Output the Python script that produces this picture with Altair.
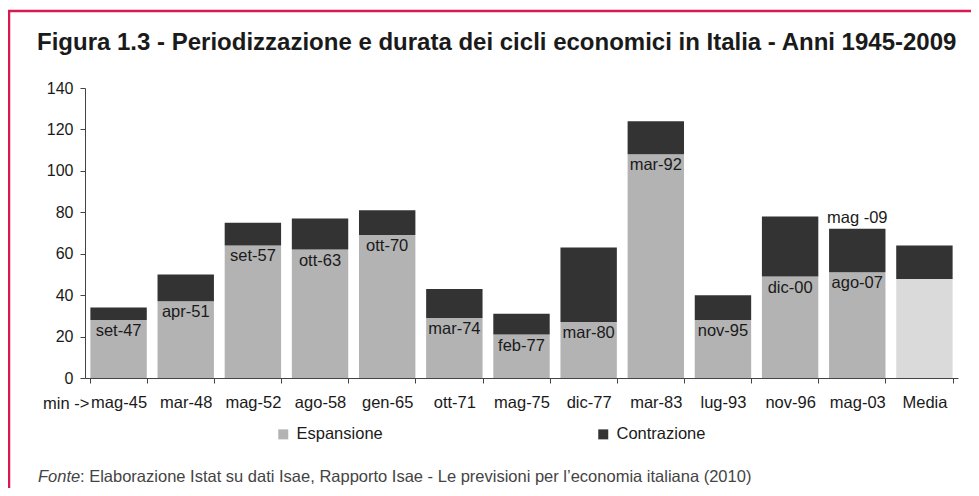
import altair as alt
import pandas as pd

# ---- data ----
categories = ["mag-45", "mar-48", "mag-52", "ago-58", "gen-65", "ott-71", "mag-75",
              "dic-77", "mar-83", "lug-93", "nov-96", "mag-03", "Media"]
espansione = [28, 37, 64, 62, 69, 29, 21, 27, 108, 28, 49, 51, 47.75]
contrazione = [6, 13, 11, 15, 12, 14, 10, 36, 16, 12, 29, 21, 16.25]
picchi = ["set-47", "apr-51", "set-57", "ott-63", "ott-70", "mar-74", "feb-77",
          "mar-80", "mar-92", "nov-95", "dic-00", "ago-07", ""]
ultimo_minimo = {"cat": "mag-03", "label": "mag -09", "total": 72}
y_ticks = [0, 20, 40, 60, 80, 100, 120, 140]

TITLE = "Figura 1.3 - Periodizzazione e durata dei cicli economici in Italia - Anni 1945-2009"
FONTE_I = "Fonte"
FONTE_R = ": Elaborazione Istat su dati Isae, Rapporto Isae - Le previsioni per l\u2019economia italiana (2010)"

FONT = "Liberation Sans"
W, H = 873, 290

rows = []
for c, e, k in zip(categories, espansione, contrazione):
    rows.append({"cat": c, "val": e, "serie": "EspMedia" if c == "Media" else "Espansione", "ord": 0})
    rows.append({"cat": c, "val": k, "serie": "Contrazione", "ord": 1})
bars_df = pd.DataFrame(rows)

lab_df = pd.DataFrame({"cat": categories, "exp": espansione, "lab": picchi})
lab_df = lab_df[lab_df["lab"] != ""]

top_df = pd.DataFrame([ultimo_minimo])
min_df = pd.DataFrame([{"cat": categories[0], "t": "min ->"}])
one = pd.DataFrame([{"k": 0}])

xscale = alt.Scale(domain=categories, paddingInner=0.16, paddingOuter=0.08)
yscale = alt.Scale(domain=[0, 140], nice=False)

bars = alt.Chart(bars_df).mark_bar().encode(
    x=alt.X("cat:N", sort=categories, scale=xscale,
            axis=alt.Axis(title=None, labelAngle=0, tickBand="extent", tickSize=5,
                          labelPadding=11, labelFontSize=16.5, labelFont=FONT,
                          labelColor="#1a1a1a", domainColor="#444", tickColor="#444",
                          labelFlush=False)),
    y=alt.Y("val:Q", stack="zero", scale=yscale,
            axis=alt.Axis(title=None, values=y_ticks, grid=False, tickSize=5,
                          labelPadding=7, labelFontSize=16, labelFont=FONT,
                          labelColor="#1a1a1a", domainColor="#444", tickColor="#444")),
    color=alt.Color("serie:N",
                    scale=alt.Scale(domain=["Espansione", "Contrazione", "EspMedia"],
                                    range=["#b3b3b3", "#333333", "#dadada"]),
                    legend=alt.Legend(values=["Espansione", "Contrazione"], title=None,
                                      orient="none", legendX=190, legendY=338,
                                      direction="horizontal", columns=2, columnPadding=212,
                                      symbolType="square", symbolSize=100,
                                      symbolStrokeWidth=0, labelFontSize=16.5,
                                      labelFont=FONT, labelColor="#1a1a1a",
                                      labelOffset=5, padding=0)),
    order=alt.Order("ord:Q"),
)

labels = alt.Chart(lab_df).mark_text(baseline="middle", dy=11, fontSize=16.5,
                                     font=FONT, color="#1a1a1a").encode(
    x=alt.X("cat:N", sort=categories, scale=xscale),
    y=alt.Y("exp:Q", scale=yscale),
    text="lab:N",
)

top_label = alt.Chart(top_df).mark_text(baseline="middle", dy=-11, fontSize=16.5,
                                        font=FONT, color="#1a1a1a").encode(
    x=alt.X("cat:N", sort=categories, scale=xscale),
    y=alt.Y("total:Q", scale=yscale),
    text="label:N",
)

min_label = alt.Chart(min_df).mark_text(align="right", baseline="middle", dx=-1,
                                        fontSize=16.5, font=FONT, color="#1a1a1a").encode(
    x=alt.X("cat:N", sort=categories, scale=xscale, bandPosition=0),
    y=alt.value(H + 26),
    text="t:N",
)

title = alt.Chart(one).mark_text(align="left", baseline="middle", fontSize=24,
                                 font=FONT, fontWeight="bold", color="#1a1a1a").encode(
    x=alt.value(-48), y=alt.value(-45), text=alt.value(TITLE))

frame_top = alt.Chart(one).mark_rule(color="#d71a52", strokeWidth=2.5).encode(
    x=alt.value(-80), x2=alt.value(W + 20), y=alt.value(-77))
frame_left = alt.Chart(one).mark_rule(color="#d71a52", strokeWidth=2.5).encode(
    x=alt.value(-76), y=alt.value(-78), y2=alt.value(H + 130))

fonte_i = alt.Chart(one).mark_text(align="left", baseline="middle", fontSize=16.5,
                                   font=FONT, fontStyle="italic", color="#444").encode(
    x=alt.value(-47), y=alt.value(H + 99), text=alt.value(FONTE_I))
fonte_r = alt.Chart(one).mark_text(align="left", baseline="middle", fontSize=16.5,
                                   font=FONT, color="#444").encode(
    x=alt.value(-5), y=alt.value(H + 99), text=alt.value(FONTE_R))

chart = alt.layer(bars, labels, top_label, min_label, title, frame_top, frame_left,
                  fonte_i, fonte_r).properties(
    width=W, height=H,
    autosize=alt.AutoSizeParams(type="none"),
    padding={"left": 77, "top": 80, "right": 13, "bottom": 110},
).configure_view(stroke=None)

chart.save("out.html", embed_options={"renderer": "svg", "actions": False})
